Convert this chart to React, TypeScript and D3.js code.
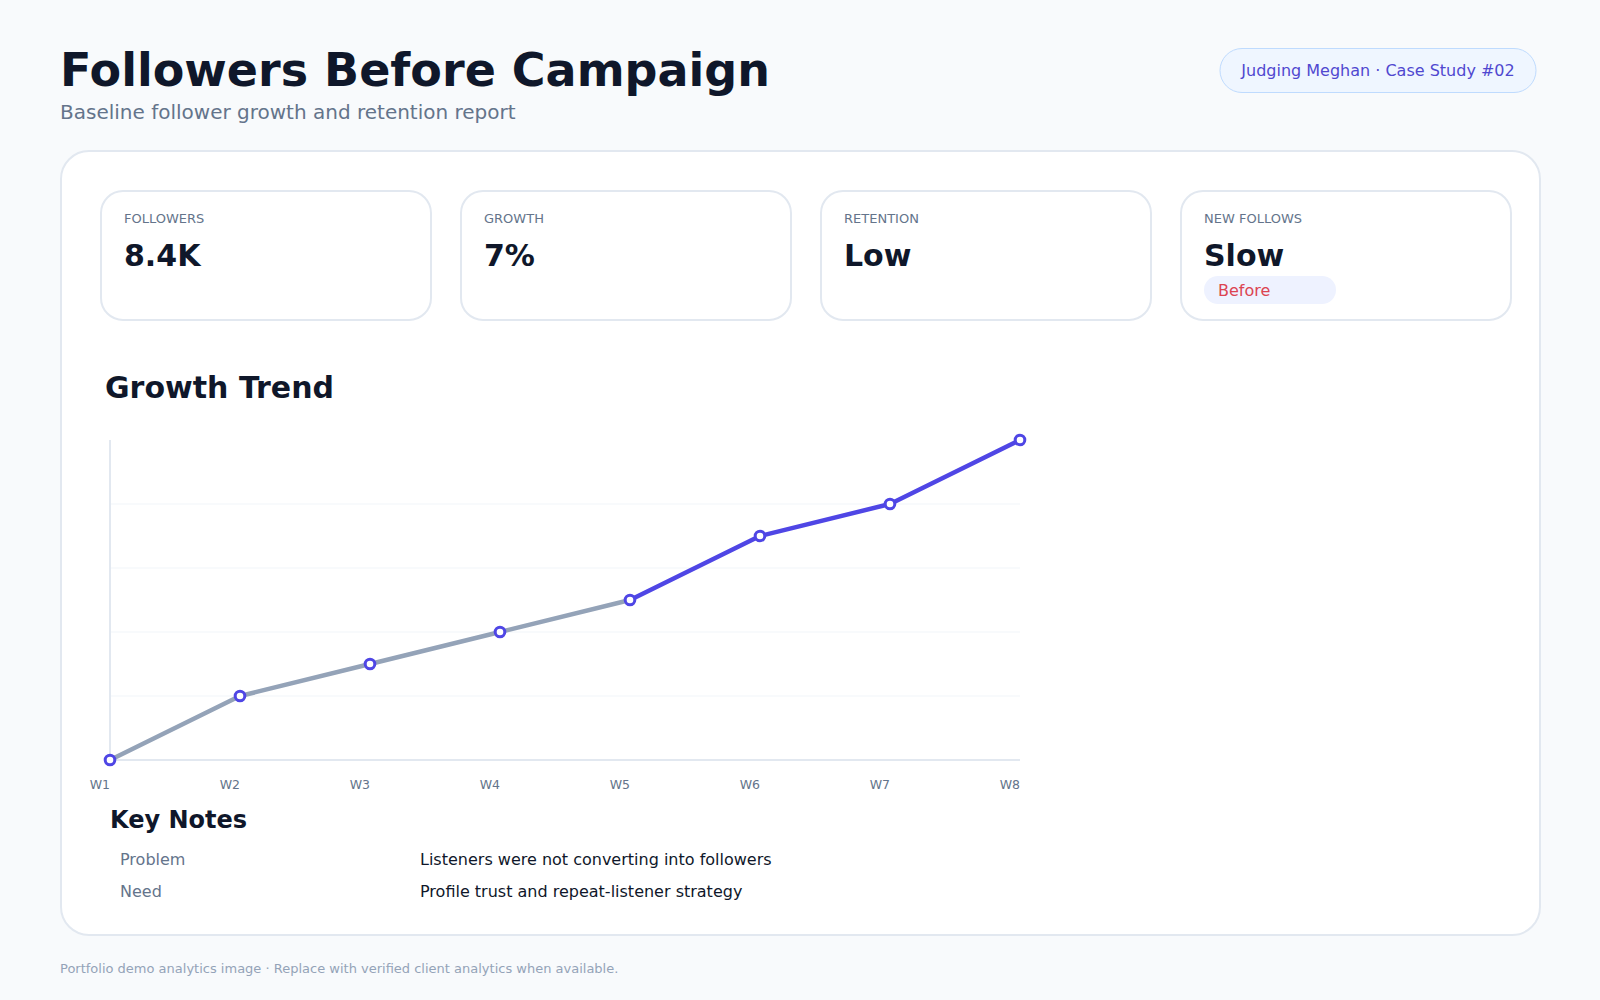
import React from "react";
import * as d3 from "d3";

const weeks = ["W1", "W2", "W3", "W4", "W5", "W6", "W7", "W8"];
const growthIndex = [0, 20, 30, 40, 50, 70, 80, 100];
const splitIndex = 4; // W5: gray before, indigo after
const gridTicks = [20, 40, 60, 80];

const statLabels = ["FOLLOWERS", "GROWTH", "RETENTION", "NEW FOLLOWS"];
const statValues = ["8.4K", "7%", "Low", "Slow"];
const noteLabels = ["Problem", "Need"];
const noteTexts = [
  "Listeners were not converting into followers",
  "Profile trust and repeat-listener strategy",
];

const FONT = "'DejaVu Sans', Verdana, sans-serif";

export default function App() {
  const x = d3.scalePoint<string>().domain(weeks).range([110, 1020]);
  const y = d3.scaleLinear().domain([0, 100]).range([760, 440]);
  const pts = growthIndex.map((v, i) => ({ v, i }));
  const lineGen = d3
    .line<{ v: number; i: number }>()
    .x((d) => x(weeks[d.i]) as number)
    .y((d) => y(d.v));
  const beforePath = lineGen(pts.slice(0, splitIndex + 1));
  const afterPath = lineGen(pts.slice(splitIndex));

  const cardW = 330;
  const cardGap = 30;

  return (
    <svg
      width={1600}
      height={1000}
      style={{ position: "absolute", left: 0, top: 0, display: "block" }}
      fontFamily={FONT}
    >
      <rect x={0} y={0} width={1600} height={1000} fill="#f8fafc" />
      <text x={60} y={86} fontSize={46} fontWeight="bold" fill="#0f172a">
        Followers Before Campaign
      </text>
      <text x={60} y={119} fontSize={20} fill="#64748b">
        Baseline follower growth and retention report
      </text>

      <rect x={1220} y={48.5} width={316} height={44} rx={22} fill="#eff6ff" stroke="#bfdbfe" strokeWidth={1} />
      <text x={1378} y={75.5} fontSize={16} fill="#5048d0" textAnchor="middle">
        Judging Meghan · Case Study #02
      </text>

      <rect x={61} y={151} width={1479} height={784} rx={28} fill="#ffffff" stroke="#e2e8f0" strokeWidth={2} />

      {statLabels.map((lab, i) => {
        const cx = 101 + i * (cardW + cardGap);
        return (
          <g key={lab}>
            <rect x={cx} y={191} width={cardW} height={129} rx={22} fill="#ffffff" stroke="#e2e8f0" strokeWidth={2} />
            <text x={cx + 23} y={223} fontSize={13} fill="#64748b">
              {lab}
            </text>
            <text x={cx + 23} y={266} fontSize={30} fontWeight="bold" fill="#0f172a">
              {statValues[i]}
            </text>
            {i === 3 && (
              <g>
                <rect x={cx + 23} y={276} width={132} height={28} rx={14} fill="#eef2ff" />
                <text x={cx + 37} y={296} fontSize={16} fill="#dc4452">
                  Before
                </text>
              </g>
            )}
          </g>
        );
      })}

      <text x={105} y={398} fontSize={30} fontWeight="bold" fill="#0f172a">
        Growth Trend
      </text>

      {gridTicks.map((t) => (
        <line key={t} x1={110} x2={1020} y1={y(t)} y2={y(t)} stroke="#f1f5f9" strokeWidth={1} />
      ))}
      <line x1={110} x2={110} y1={y(100)} y2={y(0)} stroke="#e2e8f0" strokeWidth={2} />
      <line x1={110} x2={1020} y1={y(0)} y2={y(0)} stroke="#e2e8f0" strokeWidth={2} />

      {weeks.map((w) => (
        <text key={w} x={x(w) as number} y={789} fontSize={12.5} fill="#64748b" textAnchor="end">
          {w}
        </text>
      ))}

      <path d={beforePath || ""} fill="none" stroke="#94a3b8" strokeWidth={4.5} strokeLinejoin="round" strokeLinecap="round" />
      <path d={afterPath || ""} fill="none" stroke="#4f46e5" strokeWidth={4.5} strokeLinejoin="round" strokeLinecap="round" />
      {growthIndex.map((v, i) => (
        <circle key={i} cx={x(weeks[i]) as number} cy={y(v)} r={4.8} fill="#ffffff" stroke="#4f46e5" strokeWidth={3} />
      ))}

      <text x={110} y={828} fontSize={24} fontWeight="bold" fill="#0f172a">
        Key Notes
      </text>
      {noteLabels.map((lab, i) => (
        <g key={lab}>
          <text x={120} y={865 + i * 32} fontSize={16} fill="#64748b">
            {lab}
          </text>
          <text x={420} y={865 + i * 32} fontSize={16} fill="#0f172a">
            {noteTexts[i]}
          </text>
        </g>
      ))}

      <text x={60} y={973} fontSize={13} fill="#94a3b8">
        Portfolio demo analytics image · Replace with verified client analytics when available.
      </text>
    </svg>
  );
}
